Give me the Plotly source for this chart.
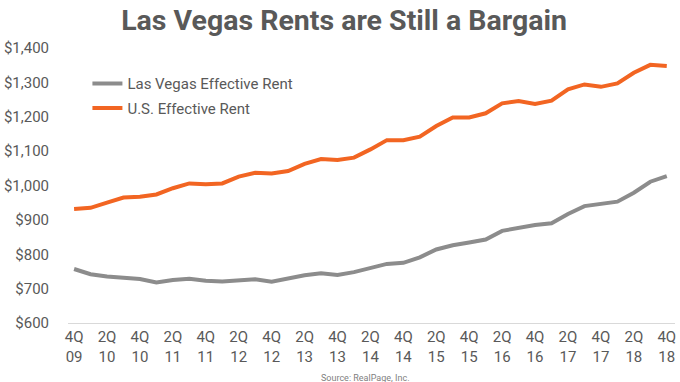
import plotly.graph_objects as go

quarters = ["4Q09","1Q10","2Q10","3Q10","4Q10","1Q11","2Q11","3Q11","4Q11",
            "1Q12","2Q12","3Q12","4Q12","1Q13","2Q13","3Q13","4Q13",
            "1Q14","2Q14","3Q14","4Q14","1Q15","2Q15","3Q15","4Q15",
            "1Q16","2Q16","3Q16","4Q16","1Q17","2Q17","3Q17","4Q17",
            "1Q18","2Q18","3Q18","4Q18"]

us_rent = [932, 935, 950, 965, 967, 974, 992, 1006, 1004, 1006, 1026, 1037, 1035,
           1042, 1063, 1077, 1074, 1081, 1105, 1132, 1132, 1142, 1173, 1198, 1198,
           1210, 1239, 1246, 1237, 1247, 1280, 1294, 1287, 1297, 1328, 1351, 1348]

lv_rent = [757, 742, 735, 732, 728, 718, 725, 729, 723, 721, 725, 727, 720,
           730, 739, 745, 740, 748, 759, 772, 775, 791, 814, 826, 834,
           843, 868, 876, 885, 890, 917, 940, 946, 953, 979, 1011, 1027]

tick_labels = ["4Q<br>09","2Q<br>10","4Q<br>10","2Q<br>11","4Q<br>11","2Q<br>12","4Q<br>12",
               "2Q<br>13","4Q<br>13","2Q<br>14","4Q<br>14","2Q<br>15","4Q<br>15","2Q<br>16",
               "4Q<br>16","2Q<br>17","4Q<br>17","2Q<br>18","4Q<br>18"]
y_ticks = [600, 700, 800, 900, 1000, 1100, 1200, 1300, 1400]
y_labels = ["$600", "$700", "$800", "$900", "$1,000", "$1,100", "$1,200", "$1,300", "$1,400"]

x = list(range(len(quarters)))
tick_pos = x[::2]

fig = go.Figure()
fig.add_trace(go.Scatter(x=x, y=lv_rent, mode="lines", name="Las Vegas Effective Rent",
                         legendgroup="lv", line=dict(color="#8c8c8c", width=4)))
fig.add_trace(go.Scatter(x=x, y=us_rent, mode="lines", name="U.S. Effective Rent",
                         legendgroup="us", line=dict(color="#f26522", width=4)))

fig.update_layout(
    width=680, height=382,
    margin=dict(l=68, r=5, t=48, b=59, autoexpand=False),
    paper_bgcolor="white", plot_bgcolor="white",
    font=dict(family="Roboto", size=15, color="#595959"),
    title=dict(text="<b>Las Vegas Rents are Still a Bargain</b>",
               x=0.506, xanchor="center", y=0.948, yanchor="middle",
               font=dict(family="Roboto", size=28.5, color="#595959")),
    showlegend=True,
    legend=dict(x=0.032, y=0.93, xanchor="left", yanchor="top",
                bgcolor="rgba(0,0,0,0)", font=dict(size=15, color="#595959"),
                tracegroupgap=2, itemwidth=30),
    xaxis=dict(range=[-0.37, 36.5], tickmode="array", tickvals=tick_pos,
               ticktext=tick_labels, showgrid=False, zeroline=False,
               showline=True, linecolor="#d9d9d9", linewidth=1, ticks="",
               automargin=False, tickfont=dict(size=15)),
    yaxis=dict(range=[600, 1400], tickmode="array", tickvals=y_ticks,
               ticktext=y_labels, showgrid=False, zeroline=False,
               showline=False, ticks="", ticklabelstandoff=18,
               automargin=False, tickfont=dict(size=15)),
    annotations=[dict(text="Source: RealPage, Inc.", x=0.49, xref="paper",
                      y=-0.2, yref="paper", yanchor="middle", showarrow=False,
                      font=dict(size=9, color="#7f7f7f"))],
)

fig.write_html("out.html", config={"displayModeBar": False},
               post_script="document.body.style.margin='0px';")
